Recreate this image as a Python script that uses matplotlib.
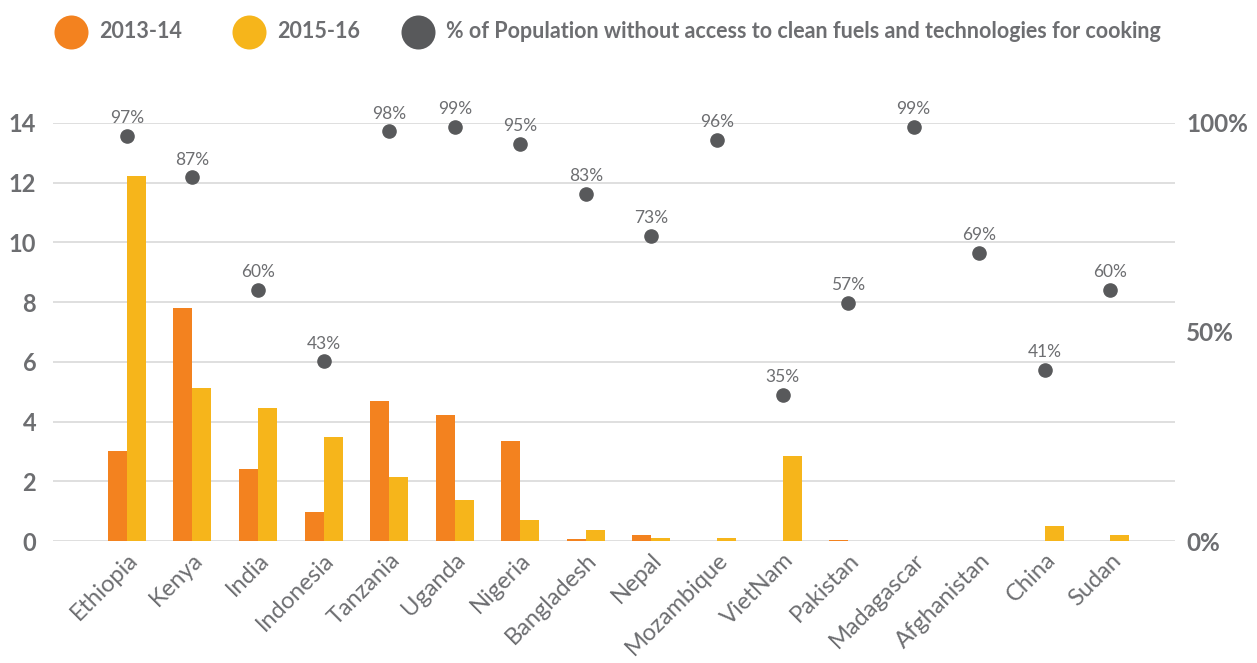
import matplotlib
matplotlib.use('Agg')
from matplotlib import pyplot as plt
import numpy as np

countries = ['Ethiopia', 'Kenya', 'India', 'Indonesia', 'Tanzania', 'Uganda', 'Nigeria',
             'Bangladesh', 'Nepal', 'Mozambique', 'VietNam', 'Pakistan', 'Madagascar',
             'Afghanistan', 'China', 'Sudan']
val_1314 = [3.02, 7.82, 2.42, 0.98, 4.7, 4.23, 3.36, 0.08, 0.2, 0.01, 0.01, 0.03, 0.0, 0.0, 0.01, 0.01]
val_1516 = [12.23, 5.13, 4.46, 3.49, 2.15, 1.38, 0.71, 0.37, 0.1, 0.1, 2.86, 0.01, 0.0, 0.0, 0.5, 0.2]
pct_no_access = [97, 87, 60, 43, 98, 99, 95, 83, 73, 96, 35, 57, 99, 69, 41, 60]
legend_labels = ['2013-14', '2015-16',
                 '% of Population without access to clean fuels and technologies for cooking']

orange = '#F3821F'
yellow = '#F6B51B'
dark = '#58595B'
grey = '#6D6E71'

plt.rcParams['font.family'] = ['Lato', 'DejaVu Sans']

fig = plt.figure(figsize=(12.57, 6.63), dpi=100)
ax = fig.add_axes([0.042, 0.184, 0.893, 0.6305])

x = np.arange(len(countries))
w = 0.29
ax.bar(x - w/2, val_1314, w, color=orange, zorder=2)
ax.bar(x + w/2, val_1516, w, color=yellow, zorder=2)

ax.set_ylim(0, 14)
ax.set_xlim(-1.13, 15.99)
ax.set_yticks(np.arange(0, 15, 2))
ax.grid(axis='y', color='#D9D9D9', linewidth=1.2, zorder=0)
for s in ax.spines.values():
    s.set_visible(False)
ax.tick_params(axis='y', length=0, pad=12, labelsize=17, labelcolor=grey)
for t in ax.get_yticklabels():
    t.set_fontweight('bold')
ax.set_xticks(x)
ax.set_xticklabels(countries, rotation=45, ha='right', rotation_mode='anchor',
                   fontsize=17, color=grey)
ax.tick_params(axis='x', length=0, pad=6)

# secondary axis for % without clean cooking
ax2 = ax.twinx()
ax2.set_ylim(0, 100)
ax2.set_yticks([0, 50, 100])
ax2.set_yticklabels(['0%', '50%', '100%'])
ax2.tick_params(axis='y', length=0, pad=8, labelsize=17.5, labelcolor=grey)
for t in ax2.get_yticklabels():
    t.set_fontweight('bold')
for s in ax2.spines.values():
    s.set_visible(False)
ax2.scatter(x, pct_no_access, s=90, color=dark, zorder=3, clip_on=False)
for xi, p in zip(x, pct_no_access):
    ax2.annotate(f'{p}%', (xi, p), xytext=(0, 7), textcoords='offset points',
                 ha='center', va='bottom', fontsize=12.5, color=grey, annotation_clip=False)

# legend drawn in pixel coords on an overlay
lg = fig.add_axes([0, 0, 1, 1], zorder=-1)
lg.set_xlim(0, 1257)
lg.set_ylim(663, 0)
lg.axis('off')
circ_x = [71, 249, 418]
for cx, c, lab in zip(circ_x, (orange, yellow, dark), legend_labels):
    lg.scatter([cx], [32], s=600, color=c, linewidths=0)
    lg.text(cx + 28, 32, lab, ha='left', va='center', fontsize=15.5,
            fontweight='bold', color=grey)

fig.savefig('out.png', dpi=100)
